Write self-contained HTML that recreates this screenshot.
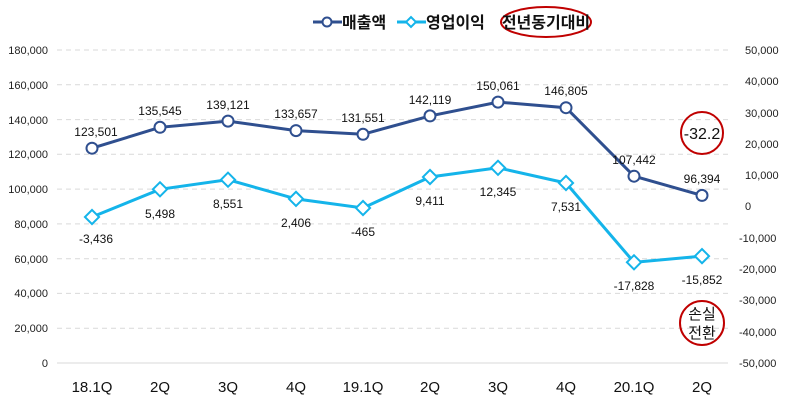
<!DOCTYPE html>
<html><head><meta charset="utf-8"><style>
body{margin:0;background:#fff}
svg text{font-family:"Liberation Sans","Noto Sans CJK KR",sans-serif}
</style></head><body>
<svg width="790" height="406" viewBox="0 0 790 406" xmlns="http://www.w3.org/2000/svg">
<g stroke="#d9d9d9" stroke-width="1" stroke-dasharray="5,4">
<line x1="57" x2="728" y1="50" y2="50"/><line x1="57" x2="728" y1="84.8" y2="84.8"/>
<line x1="57" x2="728" y1="119.6" y2="119.6"/><line x1="57" x2="728" y1="154.3" y2="154.3"/>
<line x1="57" x2="728" y1="189.1" y2="189.1"/><line x1="57" x2="728" y1="223.9" y2="223.9"/>
<line x1="57" x2="728" y1="258.7" y2="258.7"/><line x1="57" x2="728" y1="293.4" y2="293.4"/>
<line x1="57" x2="728" y1="328.2" y2="328.2"/>
</g>
<line x1="57" x2="728" y1="363" y2="363" stroke="#d9d9d9"/>
<g font-size="11" fill="#222" text-anchor="end">
<text x="48" y="54">180,000</text><text x="48" y="89">160,000</text><text x="48" y="124">140,000</text>
<text x="48" y="158">120,000</text><text x="48" y="193">100,000</text><text x="48" y="228">80,000</text>
<text x="48" y="263">60,000</text><text x="48" y="297">40,000</text><text x="48" y="332">20,000</text>
<text x="48" y="367">0</text>
</g>
<g font-size="11" fill="#222" text-anchor="start">
<text x="745" y="54">50,000</text><text x="745" y="85">40,000</text><text x="745" y="117">30,000</text>
<text x="745" y="148">20,000</text><text x="745" y="179">10,000</text><text x="745" y="210">0</text>
<text x="739" y="242">-10,000</text><text x="739" y="273">-20,000</text><text x="739" y="304">-30,000</text>
<text x="739" y="336">-40,000</text><text x="739" y="367">-50,000</text>
</g>
<g font-size="15" fill="#111" text-anchor="middle">
<text x="92" y="392">18.1Q</text><text x="160" y="392">2Q</text><text x="228" y="392">3Q</text>
<text x="296" y="392">4Q</text><text x="363" y="392">19.1Q</text><text x="430" y="392">2Q</text>
<text x="498" y="392">3Q</text><text x="566" y="392">4Q</text><text x="634" y="392">20.1Q</text>
<text x="702" y="392">2Q</text>
</g>
<polyline fill="none" stroke="#2f4f8f" stroke-width="3" points="92,148.2 160,127.3 228,121.1 296,130.6 363,134.3 430,115.9 498,102.1 566,107.7 634,176.2 702,195.4"/>
<g fill="#fff" stroke="#2f4f8f" stroke-width="2">
<circle cx="92" cy="148.2" r="5.5"/><circle cx="160" cy="127.3" r="5.5"/><circle cx="228" cy="121.1" r="5.5"/>
<circle cx="296" cy="130.6" r="5.5"/><circle cx="363" cy="134.3" r="5.5"/><circle cx="430" cy="115.9" r="5.5"/>
<circle cx="498" cy="102.1" r="5.5"/><circle cx="566" cy="107.7" r="5.5"/><circle cx="634" cy="176.2" r="5.5"/>
<circle cx="702" cy="195.4" r="5.5"/>
</g>
<polyline fill="none" stroke="#14b4ea" stroke-width="3" points="92,217 160,189.3 228,179.7 296,198.9 363,208 430,177 498,167.8 566,183 634,262.3 702,256.1"/>
<g fill="#fff" stroke="#14b4ea" stroke-width="2">
<rect x="-5" y="-5" width="10" height="10" transform="translate(92,217) rotate(45)"/>
<rect x="-5" y="-5" width="10" height="10" transform="translate(160,189.3) rotate(45)"/>
<rect x="-5" y="-5" width="10" height="10" transform="translate(228,179.7) rotate(45)"/>
<rect x="-5" y="-5" width="10" height="10" transform="translate(296,198.9) rotate(45)"/>
<rect x="-5" y="-5" width="10" height="10" transform="translate(363,208) rotate(45)"/>
<rect x="-5" y="-5" width="10" height="10" transform="translate(430,177) rotate(45)"/>
<rect x="-5" y="-5" width="10" height="10" transform="translate(498,167.8) rotate(45)"/>
<rect x="-5" y="-5" width="10" height="10" transform="translate(566,183) rotate(45)"/>
<rect x="-5" y="-5" width="10" height="10" transform="translate(634,262.3) rotate(45)"/>
<rect x="-5" y="-5" width="10" height="10" transform="translate(702,256.1) rotate(45)"/>
</g>
<g font-size="12" fill="#111" text-anchor="middle">
<text x="96" y="136">123,501</text><text x="160" y="115">135,545</text><text x="228" y="109">139,121</text>
<text x="296" y="118">133,657</text><text x="363" y="122">131,551</text><text x="430" y="104">142,119</text>
<text x="498" y="90">150,061</text><text x="566" y="95">146,805</text><text x="634" y="164">107,442</text>
<text x="702" y="183">96,394</text>
<text x="96" y="243">-3,436</text><text x="160" y="218">5,498</text><text x="228" y="208">8,551</text>
<text x="296" y="227">2,406</text><text x="363" y="236">-465</text><text x="430" y="205">9,411</text>
<text x="498" y="196">12,345</text><text x="566" y="211">7,531</text><text x="634" y="290">-17,828</text>
<text x="702" y="284">-15,852</text>
</g>
<circle cx="702" cy="133" r="21" fill="none" stroke="#c00000" stroke-width="2"/>
<text x="702" y="139" font-size="16" text-anchor="middle" fill="#111">-32.2</text>
<circle cx="702" cy="323" r="22" fill="none" stroke="#c00000" stroke-width="2"/>
<text x="702" y="319" font-size="15" text-anchor="middle" fill="#111">손실</text>
<text x="702" y="338" font-size="15" text-anchor="middle" fill="#111">전환</text>
<line x1="313" x2="342" y1="22" y2="22" stroke="#2f4f8f" stroke-width="3"/>
<circle cx="327" cy="22" r="4.5" fill="#fff" stroke="#2f4f8f" stroke-width="2"/>
<text x="342" y="28" font-size="16" font-weight="bold" fill="#111">매출액</text>
<line x1="397" x2="426" y1="22" y2="22" stroke="#14b4ea" stroke-width="3"/>
<rect x="-3.5" y="-3.5" width="7" height="7" transform="translate(411,22) rotate(45)" fill="#fff" stroke="#14b4ea" stroke-width="2"/>
<text x="426" y="28" font-size="16" font-weight="bold" fill="#111">영업이익</text>
<ellipse cx="546" cy="22" rx="45" ry="15" fill="none" stroke="#c00000" stroke-width="2"/>
<text x="546" y="28" font-size="16" font-weight="bold" text-anchor="middle" fill="#111">전년동기대비</text>
</svg>
</body></html>
